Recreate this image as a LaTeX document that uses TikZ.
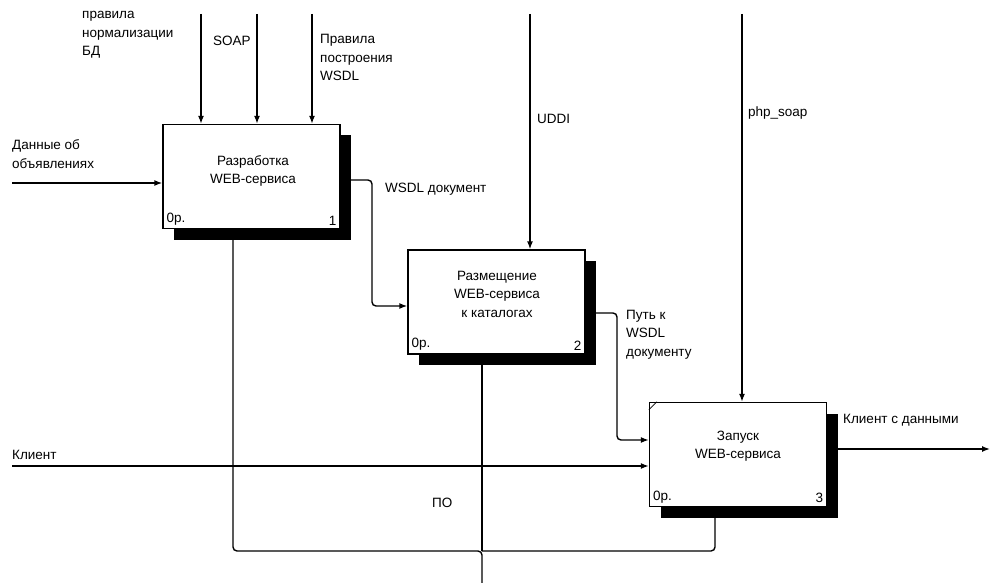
\documentclass[tikz,border=0pt]{standalone}
\usepackage{fontspec}
\setmainfont{Liberation Sans}
\usetikzlibrary{arrows.meta, shadows}

\begin{document}
\begin{tikzpicture}[x=1pt, y=-1pt,
    font=\fontsize{13.5}{18.5}\selectfont,
    box/.style={draw, fill=white, line width=1.4pt, minimum width=177pt, minimum height=104pt,
        drop shadow={shadow xshift=11pt, shadow yshift=-11pt, fill=black, opacity=1}},
    title/.style={align=center, inner sep=0pt},
    tag/.style={inner sep=4pt},
    lbl/.style={align=left, inner sep=0pt, anchor=base west},
    arr/.style={-{Latex[length=8pt,width=6pt]}, line width=1.4pt, rounded corners=4pt}]
            \useasboundingbox (0,0) rectangle (993,583);

            \node[box] (dev) at (251.5,176.5) {};
            \node[box] (pub) at (496.5,302) {};
            \node[box] (run) at (738,454.5) {};

            \node[title] (devT) at (253,171) {Разработка\\WEB-сервиса};
            \node[title] (pubT) at (497,294) {Размещение\\WEB-сервиса\\к каталогах};
            \node[title] (runT) at (738,446) {Запуск\\WEB-сервиса};

            \node[tag, anchor=south west] (devP) at (dev.south west) {0р.};
            \node[tag, anchor=south east] (devN) at (dev.south east) {1};
            \node[tag, anchor=south west] (pubP) at (pub.south west) {0р.};
            \node[tag, anchor=south east] (pubN) at (pub.south east) {2};
            \node[tag, anchor=south west] (runP) at (run.south west) {0р.};
            \node[tag, anchor=south east] (runN) at (run.south east) {3};
            \draw[line width=0.8pt] ([yshift=-8pt]run.north west) -- ([xshift=8pt]run.north west);

            \coordinate (inData) at (12,183);
            \coordinate (inClient) at (12,466);
            \coordinate (cNorm) at (201,14);
            \coordinate (cSoap) at (257,14);
            \coordinate (cWsdl) at (312,14);
            \coordinate (cUddi) at (530,14);
            \coordinate (cPhp) at (742,14);
            \coordinate (wA) at (372,180);
            \coordinate (wB) at (372,306);
            \coordinate (pA) at (617,313);
            \coordinate (pB) at (617,440);
            \coordinate (outEnd) at (990,449);
            \coordinate (mBase) at (482,583);
            \coordinate (mFork) at (482,551);
            \coordinate (mL) at (233,551);
            \coordinate (mR) at (715,551);

            \draw[arr] (inData) -- (inData -| dev.west);
            \draw[arr] (inClient) -- (inClient -| run.west);
            \foreach \c/\b in {cNorm/dev, cSoap/dev, cWsdl/dev, cUddi/pub, cPhp/run}
                \draw[arr] (\c) -- (\c |- \b.north);
            \draw[arr] (dev.east |- wA) -- (wA) -- (wB) -- (pub.west |- wB);
            \draw[arr] (pub.east |- pA) -- (pA) -- (pB) -- (run.west |- pB);
            \draw[arr] (run.east |- outEnd) -- (outEnd);
            \draw[arr] (mBase) -- (mFork) -- (mL) -- (mL |- dev.south);
            \draw[arr] (mFork) -- (mR) -- (mR |- run.south);
            \draw[arr] (mFork) -- (mFork |- pub.south);

            \node[lbl] (lNorm) at (82,56) {правила\\нормализации\\БД};
            \node[lbl] (lSoap) at (213,46) {SOAP};
            \node[lbl] (lWsdl) at (320,81) {Правила\\построения\\WSDL};
            \node[lbl] (lData) at (12,168) {Данные об\\объявлениях};
            \node[lbl] (lDoc) at (385,192) {WSDL документ};
            \node[lbl] (lUddi) at (537,124) {UDDI};
            \node[lbl] (lPhp) at (748,117) {php\_soap};
            \node[lbl] (lPath) at (626,356) {Путь к\\WSDL\\документу};
            \node[lbl] (lOut) at (843,423) {Клиент с данными};
            \node[lbl] (lClient) at (12,459) {Клиент};
            \node[lbl] (lPo) at (432,507) {ПО};
        \end{tikzpicture}
\end{document}
